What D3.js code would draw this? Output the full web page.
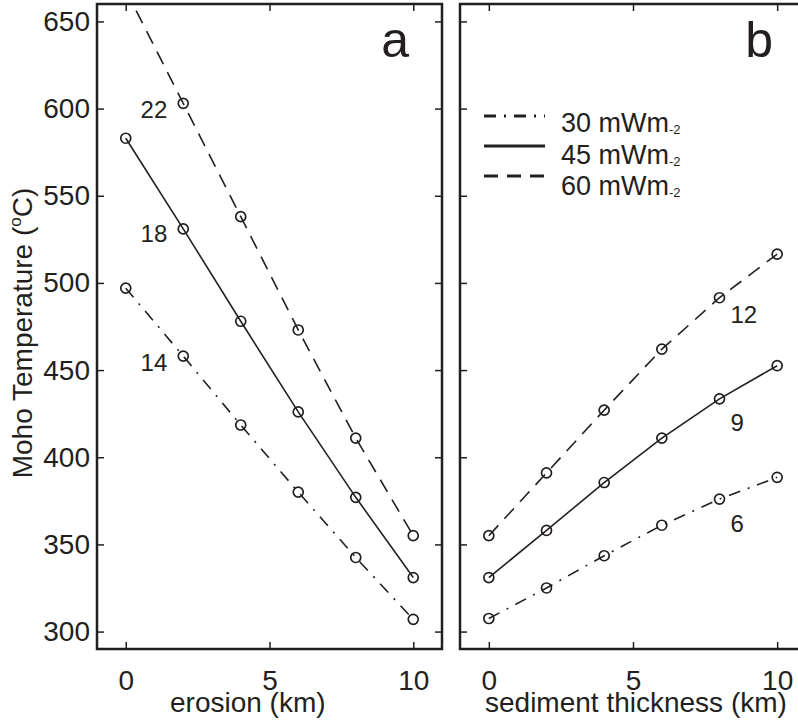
<!DOCTYPE html>
<html>
<head>
<meta charset="utf-8">
<script src="https://cdn.jsdelivr.net/npm/d3@7"></script>
<style>
  body { margin: 0; background: #fff; }
  svg { display: block; font-family: "Liberation Sans", Arial, Helvetica, sans-serif; }
</style>
</head>
<body>
<svg id="chart" width="798" height="721"></svg>
<script>
// x values (km) for both panels
const erosionKm = [0, 2, 4, 6, 8, 10];
const sedimentKm = [0, 2, 4, 6, 8, 10];

// Moho temperature (C) vs erosion, per surface heat flow
const erosion30 = [497, 458, 418.5, 380, 342.5, 307];
const erosion45 = [583, 531, 478, 426, 377, 331];
const erosion60 = [668, 603, 538, 473, 411, 355];

// Moho temperature (C) vs sediment thickness
const sediment30 = [307.5, 325, 343.5, 361, 376, 388.5];
const sediment45 = [331, 358, 385.5, 411, 433.5, 452.5];
const sediment60 = [355, 391, 427, 462, 491.5, 516.5];

const heatFlows = ["30", "45", "60"];
const erosionNotes = ["14", "18", "22"];   // labels next to the x=2 points
const sedimentNotes = ["6", "9", "12"];    // labels next to the x=8 points

const tempTicks = [300, 350, 400, 450, 500, 550, 600, 650];
const kmTicks = [0, 5, 10];

const ink = "#231f20";
const dashes = { "30": "12,8,2,8", "45": null, "60": "14,9" };

const svg = d3.select("#chart");
svg.append("rect").attr("width", 798).attr("height", 721).attr("fill", "#fff");

const plotTop = 4, plotBottom = 649;
const y = d3.scaleLinear().domain([290, 660]).range([plotBottom, plotTop]);

function drawPanel(id, left, right, xs, series, notes, noteAt, letter, xTitle) {
    const x = d3.scaleLinear().domain([-1, 11]).range([left, right]);
    const g = svg.append("g");

    g.append("clipPath").attr("id", "clip-" + id)
        .append("rect").attr("x", left).attr("y", plotTop)
        .attr("width", right - left).attr("height", plotBottom - plotTop);

    const plot = g.append("g").attr("clip-path", `url(#clip-${id})`);
    const line = d3.line().x((d, i) => x(xs[i])).y(d => y(d));

    series.forEach((vals, k) => {
        plot.append("path")
            .attr("d", line(vals))
            .attr("fill", "none")
            .attr("stroke", ink)
            .attr("stroke-width", 1.6)
            .attr("stroke-dasharray", dashes[heatFlows[k]]);
        plot.selectAll(null).data(vals).enter()
            .append("circle")
            .attr("cx", (d, i) => x(xs[i]))
            .attr("cy", d => y(d))
            .attr("r", 5)
            .attr("fill", "none")
            .attr("stroke", ink)
            .attr("stroke-width", 1.7);
    });

    // curve labels
    series.forEach((vals, k) => {
        const i = xs.indexOf(noteAt.x);
        g.append("text")
            .attr("x", x(noteAt.x) + noteAt.dx)
            .attr("y", y(vals[i]) + noteAt.dy[k])
            .attr("text-anchor", noteAt.anchor)
            .attr("font-size", 24)
            .attr("fill", ink)
            .text(notes[k]);
    });

    // inward ticks all round
    const styleAxis = sel => {
        sel.select(".domain").remove();
        sel.selectAll("line").attr("stroke", ink).attr("stroke-width", 1.5);
        sel.selectAll("text").attr("fill", ink).attr("font-size", 28)
            .attr("font-family", "Liberation Sans, Arial, sans-serif");
    };
    const leftAxis = d3.axisLeft(y).tickValues(tempTicks).tickSize(-7).tickPadding(7);
    if (id !== "a") leftAxis.tickFormat("");
    g.append("g").attr("transform", `translate(${left},0)`).call(leftAxis).call(styleAxis);
    g.append("g").attr("transform", `translate(${right},0)`)
        .call(d3.axisRight(y).tickValues(tempTicks).tickSize(-7).tickFormat("")).call(styleAxis);
    g.append("g").attr("transform", `translate(0,${plotTop})`)
        .call(d3.axisTop(x).tickValues(kmTicks).tickSize(-7).tickFormat("")).call(styleAxis);
    g.append("g").attr("transform", `translate(0,${plotBottom})`)
        .call(d3.axisBottom(x).tickValues(kmTicks).tickSize(-7).tickPadding(21)).call(styleAxis);

    g.append("rect")
        .attr("x", left).attr("y", plotTop)
        .attr("width", right - left).attr("height", plotBottom - plotTop)
        .attr("fill", "none").attr("stroke", ink).attr("stroke-width", 2.5);

    g.append("text")
        .attr("x", right - 33).attr("y", 57)
        .attr("text-anchor", "end")
        .attr("font-size", 50)
        .attr("fill", ink)
        .text(letter);

    g.append("text")
        .attr("x", xTitle.x).attr("y", 712)
        .attr("font-size", 28)
        .attr("fill", ink)
        .text(xTitle.text);

    return x;
}

drawPanel("a", 97, 442, erosionKm, [erosion30, erosion45, erosion60], erosionNotes,
    { x: 2, dx: -16, dy: [15, 13, 15], anchor: "end" }, "a", { x: 170, text: "erosion (km)" });

drawPanel("b", 460, 806, sedimentKm, [sediment30, sediment45, sediment60], sedimentNotes,
    { x: 8, dx: 11, dy: [33, 32, 25], anchor: "start" }, "b", { x: 485, text: "sediment thickness (km)" });

// y axis title
const yt = svg.append("text")
    .attr("transform", "translate(32,333) rotate(-90)")
    .attr("text-anchor", "middle")
    .attr("font-size", 28)
    .attr("fill", ink);
yt.append("tspan").text("Moho Temperature (");
yt.append("tspan").attr("font-size", 17).attr("dy", -11).text("o");
yt.append("tspan").attr("dy", 11).text("C)");

// legend in panel b
const legend = svg.append("g");
heatFlows.forEach((hf, i) => {
    const ly = 116 + i * 30;
    legend.append("line")
        .attr("x1", 484).attr("x2", 545)
        .attr("y1", ly).attr("y2", ly)
        .attr("stroke", ink)
        .attr("stroke-width", 2.8)
        .attr("stroke-dasharray", dashes[hf]);
    const t = legend.append("text")
        .attr("x", 561).attr("y", 132 + i * 31.5)
        .attr("font-size", 27)
        .attr("fill", ink);
    t.append("tspan").text(hf + " mWm");
    t.append("tspan").attr("font-size", 13).attr("dy", 2).text("-2");
});
</script>
</body>
</html>
